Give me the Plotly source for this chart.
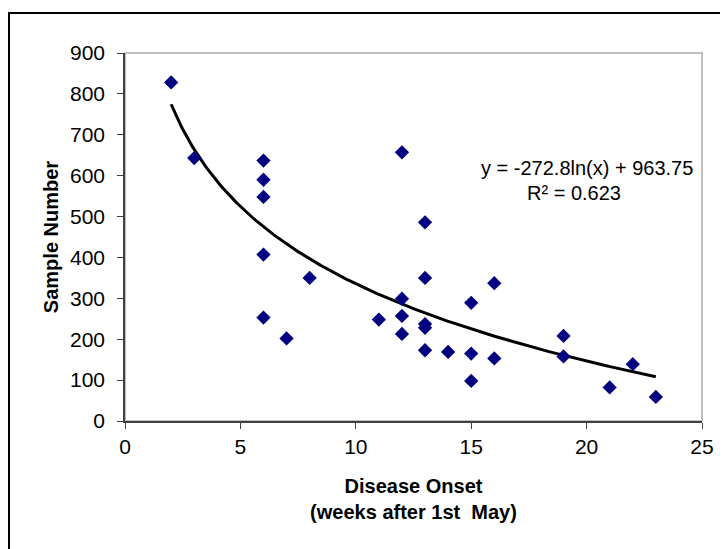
import numpy as np
import plotly.graph_objects as go

# Data
onset_weeks = [2, 3, 6, 6, 6, 6, 6, 7, 8, 11, 12, 12, 12, 12,
               13, 13, 13, 13, 13, 14, 15, 15, 15, 16, 16, 19, 19, 21, 22, 23]
sample_number = [828, 643, 637, 590, 548, 407, 253, 202, 350, 248, 657, 299, 257, 213,
                 486, 350, 237, 228, 173, 169, 289, 165, 98, 337, 153, 208, 158, 82, 139, 59]

# Logarithmic trendline coefficients (as shown on the chart)
trend_slope = -272.8
trend_intercept = 963.75
trend_r2 = 0.623
trend_x_min = 2
trend_x_max = 23

x_ticks = [0, 5, 10, 15, 20, 25]
y_ticks = [0, 100, 200, 300, 400, 500, 600, 700, 800, 900]

FONT = "Liberation Sans, Arial, sans-serif"

tx = np.linspace(trend_x_min, trend_x_max, 300)
ty = trend_slope * np.log(tx) + trend_intercept

fig = go.Figure()
fig.add_trace(go.Scatter(
    x=tx, y=ty, mode="lines",
    line=dict(color="black", width=3),
    hoverinfo="skip", showlegend=False,
))
fig.add_trace(go.Scatter(
    x=onset_weeks, y=sample_number, mode="markers",
    marker=dict(symbol="diamond", size=11, color="#000080"),
    showlegend=False,
))

W, H = 728, 549
OFF = 8  # page body margin
L, T = 125 - OFF, 53 - OFF
R = W - (702 - OFF)
B = H - (421 - OFF)
pw, ph = W - L - R, H - T - B

def px_x(p):  # screenshot pixel -> paper
    return (p - OFF - L) / pw

def px_y(p):
    return (H - B - (p - OFF)) / ph

fig.update_layout(
    width=W, height=H,
    margin=dict(l=L, r=R, t=T, b=B),
    paper_bgcolor="white", plot_bgcolor="white",
    font=dict(family=FONT, size=21, color="black"),
    xaxis=dict(
        range=[0, 25], tickvals=x_ticks, ticks="outside", ticklen=6,
        tickcolor="#404040", showline=True, linecolor="#404040", linewidth=1.5,
        showgrid=False, zeroline=False,
        title=dict(text="<b>Disease Onset</b><br><b>(weeks after 1st  May)</b>",
                   font=dict(size=20), standoff=22),
    ),
    yaxis=dict(
        range=[0, 900], tickvals=y_ticks, ticks="outside", ticklen=6,
        tickcolor="#404040", showline=True, linecolor="#404040", linewidth=1.5,
        showgrid=False, zeroline=False, ticklabelstandoff=8,
        title=dict(text="<b>Sample Number</b>", font=dict(size=20), standoff=6),
    ),
    shapes=[
        dict(type="rect", xref="paper", yref="paper", x0=0, x1=1, y0=0, y1=1,
             line=dict(color="#c0c0c0", width=2), layer="below"),
        dict(type="rect", xref="paper", yref="paper",
             x0=px_x(9), x1=px_x(780), y0=px_y(620), y1=px_y(13),
             line=dict(color="black", width=2), layer="below"),
    ],
    annotations=[
        dict(xref="paper", yref="paper", x=px_x(587), y=px_y(168),
             text="y = -272.8ln(x) + 963.75", showarrow=False,
             font=dict(size=20), xanchor="center", yanchor="middle"),
        dict(xref="paper", yref="paper", x=px_x(574), y=px_y(193),
             text="R² = %.3f" % trend_r2, showarrow=False,
             font=dict(size=20), xanchor="center", yanchor="middle"),
    ],
)

fig.write_html("out.html")
